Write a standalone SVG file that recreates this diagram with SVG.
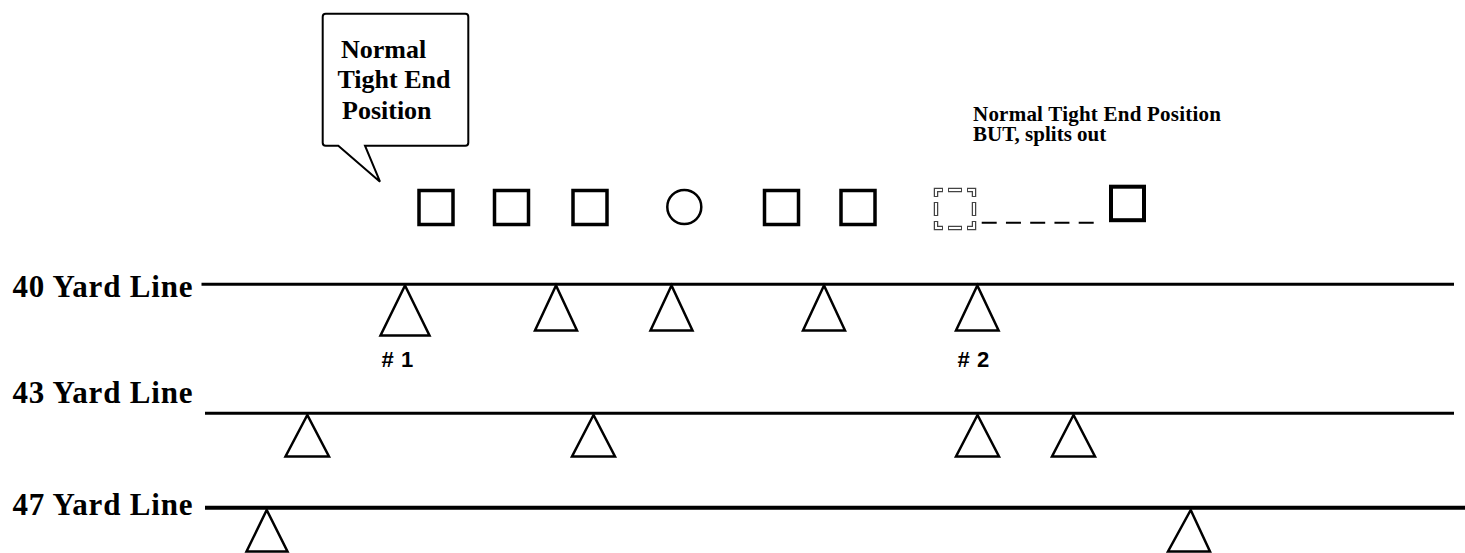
<svg xmlns="http://www.w3.org/2000/svg" width="1465" height="553" viewBox="0 0 1465 553">
<style>
.serif{font-family:"Liberation Serif","Times New Roman",serif;font-weight:bold;fill:#000}
.sans{font-family:"Liberation Sans",Arial,sans-serif;font-weight:bold;fill:#000}
.yl{font-size:31px}
.yard{stroke:#000;fill:none}
.tri{fill:none;stroke:#000;stroke-width:2.5;stroke-linejoin:miter}
.sq{fill:none;stroke:#000;stroke-width:3.5}
</style>
<rect width="1465" height="553" fill="#fff"/>
<g id="callout">
<path d="M325.7,13.7 H465.3 Q468.3,13.7 468.3,16.7 V142.7 Q468.3,145.7 465.3,145.7 H365 L380,181.7 L338.3,145.7 H325.7 Q322.7,145.7 322.7,142.7 V16.7 Q322.7,13.7 325.7,13.7 Z" fill="#fff" stroke="#000" stroke-width="2"/>
<text class="serif" font-size="26" x="341" y="58.3">Normal</text>
<text class="serif" font-size="26" x="337.5" y="88.3">Tight End</text>
<text class="serif" font-size="26" x="342" y="119">Position</text>
</g>
<g id="note">
<text class="serif" font-size="21" x="973" y="120.5" textLength="248" lengthAdjust="spacing">Normal Tight End Position</text>
<text class="serif" font-size="21" x="973" y="141">BUT, splits out</text>
</g>
<g id="yard-lines">
<g id="line40"><text class="serif yl" x="12.5" y="296.5" textLength="180" lengthAdjust="spacing">40 Yard Line</text><line class="yard" x1="201.5" y1="284.3" x2="1454" y2="284.3" stroke-width="3"/></g>
<g id="line43"><text class="serif yl" x="12.5" y="403.3" textLength="180" lengthAdjust="spacing">43 Yard Line</text><line class="yard" x1="205" y1="413.3" x2="1454" y2="413.3" stroke-width="3"/></g>
<g id="line47"><text class="serif yl" x="12.5" y="515" textLength="180" lengthAdjust="spacing">47 Yard Line</text><line class="yard" x1="205" y1="507.8" x2="1465" y2="507.8" stroke-width="4"/></g>
</g>
<g id="offense">
<rect id="o1" class="sq" x="419" y="190.5" width="34" height="34"/>
<rect id="o2" class="sq" x="494.5" y="190.5" width="34" height="34"/>
<rect id="o3" class="sq" x="573" y="190.5" width="34" height="34"/>
<circle id="center" cx="684.3" cy="207" r="17" fill="none" stroke="#000" stroke-width="2.5"/>
<rect id="o5" class="sq" x="764.5" y="190.5" width="34" height="34"/>
<rect id="o6" class="sq" x="841" y="190.5" width="34" height="34"/>
<g id="te-ghost">
<rect x="936" y="190" width="38" height="38" fill="none" stroke="#444" stroke-width="4.5" stroke-dasharray="14 5 14 5" stroke-dashoffset="7"/>
<rect x="936" y="190" width="38" height="38" fill="none" stroke="#fff" stroke-width="2" stroke-dasharray="12 7 12 7" stroke-dashoffset="6"/>
</g>
<rect id="te" x="1111" y="186.7" width="33" height="33.5" fill="none" stroke="#000" stroke-width="4"/>
</g>
<g id="connectors">
<line x1="981.7" y1="222.7" x2="1094" y2="222.7" stroke="#000" stroke-width="2" stroke-dasharray="15 9.25"/>
</g>
<g id="defense">
<polygon id="d1" class="tri" points="405,285.5 380.5,335.5 429.5,335.5"/>
<polygon id="d2" class="tri" points="556,285.5 535,330.5 577,330.5"/>
<polygon id="d3" class="tri" points="671.5,285.5 650.5,330.5 692.5,330.5"/>
<polygon id="d4" class="tri" points="824,285.5 803,330.5 845,330.5"/>
<polygon id="d5" class="tri" points="977.3,285.5 956,330.5 998.6,330.5"/>
<text class="sans" font-size="22" x="381.5" y="366.5">#</text>
<text class="sans" font-size="22" x="401" y="366.5">1</text>
<text class="sans" font-size="22" x="957.5" y="366.5">#</text>
<text class="sans" font-size="22" x="977" y="366.5">2</text>
<polygon id="d6" class="tri" points="307.3,415 285.5,456.5 329,456.5"/>
<polygon id="d7" class="tri" points="593.5,415 572,456.5 615,456.5"/>
<polygon id="d8" class="tri" points="977.5,415 956,456.5 999,456.5"/>
<polygon id="d9" class="tri" points="1073.5,415 1052,456.5 1095,456.5"/>
<polygon id="d10" class="tri" points="266.7,510 246.5,551.5 287.5,551.5"/>
<polygon id="d11" class="tri" points="1190.7,510 1168,551.5 1210,551.5"/>
</g>
</svg>
